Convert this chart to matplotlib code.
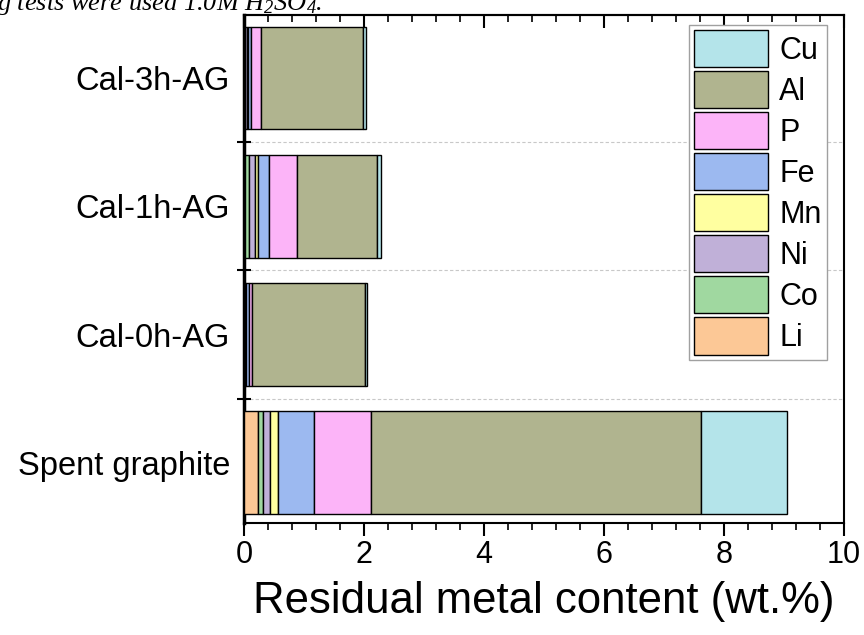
import matplotlib
matplotlib.use('Agg')
import matplotlib.pyplot as plt
import numpy as np
from matplotlib.ticker import MultipleLocator, FixedLocator

plt.rcParams['font.family'] = ['Liberation Sans', 'DejaVu Sans']
plt.rcParams['mathtext.fontset'] = 'custom'
plt.rcParams['mathtext.rm'] = 'Liberation Serif:italic'
plt.rcParams['mathtext.it'] = 'Liberation Serif:italic'

# samples, bottom to top
samples = ['Spent graphite', 'Cal-0h-AG', 'Cal-1h-AG', 'Cal-3h-AG']

# residual content of each element (wt.%)
Li = [0.24, 0.01, 0.01, 0.01]
Co = [0.08, 0.01, 0.07, 0.01]
Ni = [0.12, 0.01, 0.11, 0.03]
Mn = [0.12, 0.01, 0.04, 0.01]
Fe = [0.60, 0.04, 0.19, 0.06]
P  = [0.95, 0.06, 0.46, 0.17]
Al = [5.50, 1.88, 1.33, 1.69]
Cu = [1.44, 0.03, 0.08, 0.05]

elements = ['Li', 'Co', 'Ni', 'Mn', 'Fe', 'P', 'Al', 'Cu']
series = [Li, Co, Ni, Mn, Fe, P, Al, Cu]
colors = ['#FCC896', '#A0D8A0', '#C0B0D8', '#FFFFA0',
          '#9CB9F0', '#FCB4F8', '#B0B48F', '#B4E4EA']

fig = plt.figure(figsize=(8.64, 6.35), dpi=100)
ax = fig.add_axes([0.2824, 0.1764, 0.6945, 0.7996])

ypos = np.arange(len(samples))
left = np.zeros(len(samples))
for name, vals, c in zip(elements, series, colors):
    ax.barh(ypos, vals, height=0.8, left=left, color=c,
            edgecolor='black', linewidth=1.0, label=name, zorder=3)
    left += np.array(vals)

ax.set_xlim(0, 10)
ax.set_ylim(-0.47, 3.49)

# x ticks: labelled every 2, minor every 0.4
ax.xaxis.set_major_locator(MultipleLocator(2))
ax.xaxis.set_minor_locator(MultipleLocator(0.4))
ax.tick_params(axis='x', which='major', direction='out', length=9, width=1.5,
               labelsize=22, pad=3, top=False)
ax.tick_params(axis='x', which='minor', direction='out', length=5, width=1.2,
               top=False)
# mirrored inward ticks on the top edge
sec = ax.secondary_xaxis('top')
sec.xaxis.set_major_locator(MultipleLocator(2))
sec.xaxis.set_minor_locator(MultipleLocator(0.4))
sec.tick_params(which='major', direction='in', length=9, width=1.5, labeltop=False)
sec.tick_params(which='minor', direction='in', length=5, width=1.2)
sec.spines['top'].set_linewidth(1.5)

# y: separators between samples as major ticks, names as minor labels
ax.yaxis.set_major_locator(FixedLocator(ypos[:-1] + 0.5))
ax.yaxis.set_major_formatter(plt.NullFormatter())
ax.yaxis.set_minor_locator(FixedLocator(ypos))
ax.set_yticklabels(samples, minor=True)
ax.tick_params(axis='y', which='major', direction='inout', length=10, width=1.5)
ax.tick_params(axis='y', which='minor', length=0, labelsize=23.5, pad=10)
ax.grid(axis='y', which='major', linestyle=(0, (3, 2)), color='#C8C8C8',
        linewidth=0.8, zorder=0)

for s in ax.spines.values():
    s.set_linewidth(1.5)
ax.spines['left'].set_linewidth(2.5)

ax.set_xlabel('Residual metal content (wt.%)', fontsize=31.5, labelpad=8)

handles, labels = ax.get_legend_handles_labels()
leg = ax.legend(handles[::-1], labels[::-1], loc='upper right',
                bbox_to_anchor=(0.971, 0.981), fontsize=22,
                handlelength=2.42, handleheight=1.49, handletextpad=0.36,
                labelspacing=0.13, borderpad=0.17, borderaxespad=0,
                fancybox=False, framealpha=1, edgecolor='#A0A0A0')
leg.get_frame().set_linewidth(1.0)
leg.set_zorder(5)

fig.text(-0.004, 0.985, r'g tests were used 1.0M H$_2$SO$_4$.',
         family='Liberation Serif', style='italic', fontsize=19,
         ha='left', va='baseline')

fig.savefig('out.png', dpi=100, facecolor='white')
